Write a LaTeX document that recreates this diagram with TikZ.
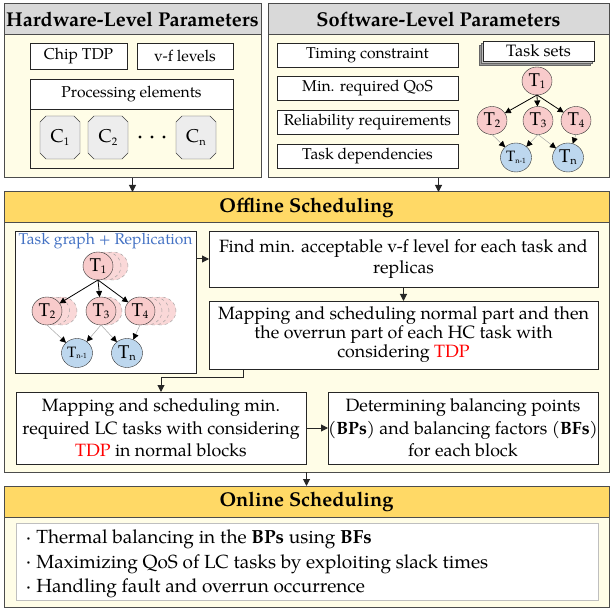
\documentclass[tikz,border=0pt]{standalone}
\usepackage{fontspec}
\setmainfont{TeX Gyre Pagella}
\usetikzlibrary{arrows.meta,shapes.geometric,shapes.misc,calc}
\definecolor{cream}{HTML}{FFFDE7}
\definecolor{hdrgray}{HTML}{D9D9D9}
\definecolor{hdryel}{HTML}{FFD966}
\definecolor{tpink}{HTML}{F8CBCB}
\definecolor{tblue}{HTML}{BDD7EE}
\definecolor{tgblue}{HTML}{4472C4}
\newcommand\mysub[1]{\raisebox{-0.25ex}{\fontsize{11}{11}\selectfont #1}}
\newcommand\mysubs[1]{\raisebox{-0.2ex}{\fontsize{7.5}{7.5}\selectfont #1}}
\newcommand\mybul{\raisebox{0.4ex}{\fontsize{6}{6}\selectfont\textbullet}\hspace{6pt}}
\begin{document}
\begin{tikzpicture}[x=1pt,y=-1pt,
  every node/.style={inner sep=0pt, outer sep=0pt},
  panel/.style={draw=black!70, fill=cream, line width=1pt, anchor=north west},
  hdr/.style={draw=black!70, line width=1pt, anchor=north west, font=\fontsize{20}{22}\selectfont\bfseries},
  box/.style={draw=black!85, fill=white, line width=0.8pt, anchor=north west},
  sm/.style={font=\fontsize{15.7}{17}\selectfont},
  core/.style={chamfered rectangle, chamfered rectangle xsep=3pt, chamfered rectangle ysep=3pt, draw=black!75, fill=black!7, minimum width=40pt, minimum height=43pt, font=\fontsize{18.5}{19}\selectfont},
  tp/.style={ellipse, draw=black!80, fill=tpink, minimum width=30pt, minimum height=28pt, font=\fontsize{18.5}{19}\selectfont},
  tb/.style={ellipse, draw=black!80, fill=tblue, minimum width=31pt, minimum height=29pt, font=\fontsize{18.5}{19}\selectfont},
  rep/.style={ellipse, draw=black!40, dashed, fill=tpink!75, minimum width=30pt, minimum height=28pt},
  arr/.style={-{Triangle[length=7pt,width=7pt]}, line width=1pt, draw=black!85},
  tarr/.style={-{Triangle[length=6pt,width=6pt]}, line width=0.8pt},
  garr/.style={-{Triangle[length=6pt,width=6pt,color=black]}, draw=black!35, line width=0.5pt},
  txt/.style={align=center, font=\fontsize{17.8}{#1}\selectfont}
]
\useasboundingbox (0,0) rectangle (613,612);

% ---------- Hardware panel
\node[panel, minimum width=257pt, minimum height=174pt] (hw) at (4,4) {};
\node[hdr, fill=hdrgray, minimum width=257pt, minimum height=31pt] (hwh) at (4,4) {Hardware-Level Parameters};
\node[box, sm, minimum width=97pt, minimum height=26pt] (tdp) at (30,43) {Chip TDP};
\node[box, sm, minimum width=96pt, minimum height=26pt] (vf) at (137,43) {v-f levels};
\node[draw=black!85, line width=0.8pt, fill=cream, anchor=north west, minimum width=203pt, minimum height=89pt] (pe) at (30,79) {};
\node[box, sm, minimum width=203pt, minimum height=30pt] (peh) at (30,79) {Processing elements};
\node[core] (c1) at (60,137.5) {C\mysub{1}};
\node[core] (c2) at (108,137.5) {C\mysub{2}};
\node[core] (cn) at (196,137.5) {C\mysub{n}};
\fill (140,137) circle (1.6) (152,137) circle (1.6) (164,137) circle (1.6);

% ---------- Software panel
\node[panel, minimum width=341pt, minimum height=174pt] (sw) at (268,4) {};
\node[hdr, fill=hdrgray, minimum width=341pt, minimum height=31pt] (swh) at (268,4) {Software-Level Parameters};
\node[box, sm, minimum width=181pt, minimum height=24pt] (tc) at (277,43) {Timing constraint};
\node[box, sm, minimum width=181pt, minimum height=24pt] (qos) at (277,76) {Min. required QoS};
\node[box, sm, minimum width=181pt, minimum height=24pt] (rel) at (277,110) {Reliability requirements};
\node[box, sm, minimum width=181pt, minimum height=24pt] (dep) at (277,144) {Task dependencies};
\node[draw=black!60, fill=black!40, anchor=north west, minimum width=111pt, minimum height=20pt] (ts3) at (479,45) {};
\node[draw=black!60, fill=black!25, anchor=north west, minimum width=111pt, minimum height=20pt] (ts2) at (481,43) {};
\node[box, font=\fontsize{16.5}{17}\selectfont, minimum width=111pt, minimum height=20pt] (ts) at (483,41) {Task sets};
\node[tp] (s1) at (537,81) {T\mysub{1}};
\node[tp] (s2) at (492,120.5) {T\mysub{2}};
\node[tp] (s3) at (538,120.5) {T\mysub{3}};
\node[tp] (s4) at (576,120.5) {T\mysub{4}};
\node[tb, font=\fontsize{15}{15}\selectfont] (sn1) at (516,157.5) {T\mysubs{n-1}};
\node[tb] (sn) at (568,157.5) {T\mysub{n}};
\draw[tarr] (s1.south) -- (s2);
\draw[tarr] (s1.south) -- (s3);
\draw[tarr] (s1.south) -- (s4);
\draw[garr] (s2.south) -- (sn1);
\draw[garr] (s3.south) -- (sn1);
\draw[garr] (s3.south) -- (sn);
\draw[garr] (s4.south) -- (sn);

% ---------- Offline panel
\node[panel, minimum width=605pt, minimum height=280pt] (off) at (4,192) {};
\node[hdr, fill=hdryel, minimum width=605pt, minimum height=31pt] (offh) at (4,192) {Offline Scheduling};
\draw[arr] (hw.south) -- (hw.south |- off.north);
\draw[arr] (sw.south) -- (sw.south |- off.north);

\node[box, minimum width=181pt, minimum height=142pt] (tg) at (15,231) {};
\node[anchor=north, text=tgblue, font=\fontsize{15.6}{17}\selectfont] (tgl) at (105.5,233) {Task graph + Replication};
% replicas
\node[rep] at (113,266) {};
\node[rep] at (106,266) {};
\node[rep] at (62,311) {};
\node[rep] at (54.5,311) {};
\node[rep] at (107,311) {};
\node[rep] at (161,311) {};
\node[rep] at (154,311) {};
\node[rep] at (147,311) {};
\node[tp] (g1) at (98,266) {T\mysub{1}};
\node[tp] (g2) at (47,311) {T\mysub{2}};
\node[tp] (g3) at (101,311) {T\mysub{3}};
\node[tp] (g4) at (140,311) {T\mysub{4}};
\node[tb, font=\fontsize{15}{15}\selectfont] (gn1) at (77,353) {T\mysubs{n-1}};
\node[tb] (gn) at (127,353) {T\mysub{n}};
\draw[tarr] (g1.south) -- (g2);
\draw[tarr] (g1.south) -- (g3);
\draw[tarr] (g1.south) -- (g4);
\draw[garr] (g2.south) -- (gn1);
\draw[garr] (g3.south) -- (gn1);
\draw[garr] (g3.south) -- (gn);
\draw[garr] (g4.south) -- (gn);

\node[box, minimum width=389pt, minimum height=56pt, txt=21] (find) at (209,231) {Find min. acceptable v-f level for each task and\\replicas};
\node[box, minimum width=389pt, minimum height=68pt, txt=17.2] (map) at (209,301) {Mapping and scheduling normal part and then\\the overrun part of each HC task with\\considering \textcolor{red}{TDP}};
\node[box, minimum width=290pt, minimum height=72pt, txt=22.5] (lc) at (16,392) {Mapping and scheduling min.\\required LC tasks with considering\\\textcolor{red}{TDP} in normal blocks};
\node[box, minimum width=270pt, minimum height=72pt, txt=22.5] (bp) at (328,392) {Determining balancing points\\(\textbf{BPs}) and balancing factors (\textbf{BFs})\\for each block};
\draw[arr] (tg.east |- find.west) -- (find.west);
\draw[arr] (find.south) -- (map.south |- map.north);
\draw[arr] (map.south -| 243,0) -- ++(0,8) -| (lc.north);
\draw[arr] (lc.east) -- (bp.west);

% ---------- Online panel
\node[panel, minimum width=605pt, minimum height=121pt] (on) at (4,486) {};
\node[hdr, fill=hdryel, minimum width=605pt, minimum height=31pt] (onh) at (4,486) {Online Scheduling};
\draw[arr] (off.south) -- (on.north);
\node[draw=black!25, line width=0.8pt, fill=white, anchor=north west, minimum width=582pt, minimum height=77pt] (onb) at (16,523) {};
\node[anchor=north west, align=left, font=\fontsize{19}{24.5}\selectfont] (onl) at (27,530) {\mybul Thermal balancing in the \textbf{BPs} using \textbf{BFs}\\
\mybul Maximizing QoS of LC tasks by exploiting slack times\\
\mybul Handling fault and overrun occurrence};
\end{tikzpicture}
\end{document}
